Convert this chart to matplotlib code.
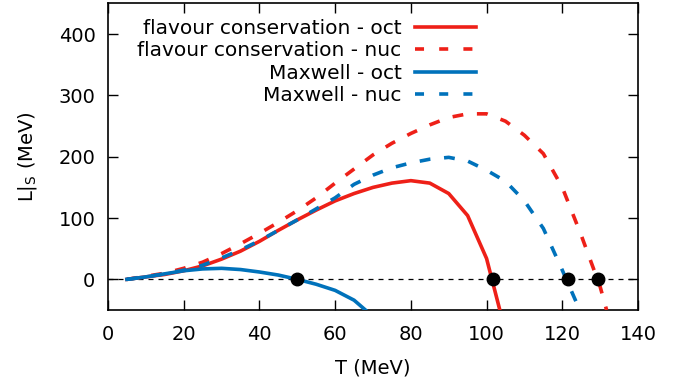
import matplotlib
matplotlib.use("Agg")
import matplotlib.pyplot as plt
from matplotlib.lines import Line2D

# Data
T_fc_oct = [5, 10, 15, 20, 25, 30, 35, 40, 45, 50, 55, 60, 65, 70, 75, 80, 85, 90, 95, 100, 103.5]
L_fc_oct = [0, 4, 8, 14, 22, 33, 46, 62, 80, 97, 113, 128, 140, 150, 157, 161, 157, 140, 104, 34, -50]

T_fc_nuc = [5, 10, 15, 20, 25, 30, 35, 40, 45, 50, 55, 60, 65, 70, 75, 80, 85, 90, 95, 100, 105, 110, 115, 120, 125, 130, 131.7]
L_fc_nuc = [0, 5, 10, 18, 28, 42, 58, 75, 93, 112, 133, 157, 180, 203, 222, 238, 252, 264, 270, 270, 258, 235, 205, 150, 72, -12, -50]

T_mx_oct = [5, 10, 15, 20, 25, 30, 35, 40, 45, 50, 55, 60, 65, 68]
L_mx_oct = [0, 4, 9, 14, 17, 18, 16, 12, 7, 0, -8, -18, -34, -50]

T_mx_nuc = [5, 10, 15, 20, 25, 30, 35, 40, 45, 50, 55, 60, 65, 70, 75, 80, 85, 90, 95, 100, 105, 110, 115, 120, 124.6]
L_mx_nuc = [0, 4, 9, 15, 23, 35, 48, 63, 80, 97, 115, 133, 155, 170, 182, 190, 196, 199, 193, 178, 160, 128, 83, 15, -50]

T_roots = [50, 101.7, 121.5, 129.4]
L_roots = [0, 0, 0, 0]

labels = ["flavour conservation - oct", "flavour conservation - nuc",
          "Maxwell - oct", "Maxwell - nuc"]

red = "#ee2018"
blue = "#0072bb"

fig = plt.figure(figsize=(6.92, 3.81), dpi=100)
ax = fig.add_axes([108/692, 1 - 310/381, (638-108)/692, (310-3.5)/381])

lw = 2.6
dash = (3.0, 3.8)
ax.axhline(0, color="black", lw=0.9, ls=(0, (4, 4)), zorder=1)
ax.plot(T_fc_oct, L_fc_oct, color=red, lw=lw, zorder=3)
ax.plot(T_fc_nuc, L_fc_nuc, color=red, lw=lw, ls=(0, dash), zorder=3)
ax.plot(T_mx_oct, L_mx_oct, color=blue, lw=lw, zorder=3)
ax.plot(T_mx_nuc, L_mx_nuc, color=blue, lw=lw, ls=(0, dash), zorder=3)
ax.plot(T_roots, L_roots, 'o', color="black", ms=9, zorder=5, clip_on=False)

ax.set_xlim(0, 140)
ax.set_ylim(-50, 450)
ax.set_xticks(range(0, 141, 20))
ax.set_yticks(range(0, 401, 100))
ax.tick_params(direction="in", top=True, right=True, length=7, width=1,
               labelsize=14)
ax.tick_params(axis="x", pad=11)
ax.tick_params(axis="y", pad=9)
for s in ax.spines.values():
    s.set_linewidth(1.2)

ax.set_xlabel("T (MeV)", fontsize=14, labelpad=10)
ax.set_ylabel("L|$_\\mathregular{S}$ (MeV)", fontsize=14, labelpad=14)

ldash = (0, (2.5, 4.2))
handles = [Line2D([], [], color=red, lw=lw),
           Line2D([], [], color=red, lw=lw, ls=ldash),
           Line2D([], [], color=blue, lw=lw),
           Line2D([], [], color=blue, lw=lw, ls=ldash)]
leg = ax.legend(handles, labels, loc="upper right",
                bbox_to_anchor=(476/692, 1 - 19/381),
                bbox_transform=fig.transFigure, frameon=False, fontsize=14.5,
                markerfirst=False, handlelength=3.05, handletextpad=0.65,
                labelspacing=0.17, borderaxespad=0, borderpad=0)
for t in leg.get_texts():
    t.set_ha("right")
leg._legend_box.align = "right"

fig.savefig("out.png", dpi=100)
